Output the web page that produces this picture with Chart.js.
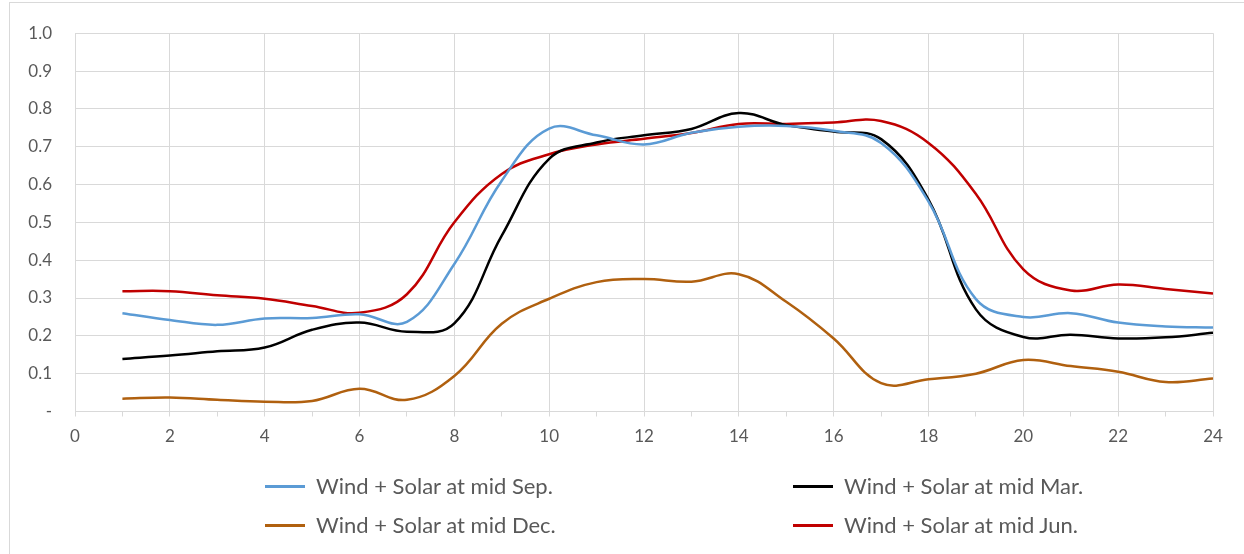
<!DOCTYPE html>
<html>
<head>
<meta charset="utf-8">
<script src="https://cdn.jsdelivr.net/npm/chart.js@4/dist/chart.umd.min.js"></script>
<style>
  html, body { margin: 0; padding: 0; background: #fff; }
  #wrap { position: relative; width: 1244px; height: 554px; overflow: hidden; }
  #frame { position: absolute; left: 9px; top: 2px; width: 1300px; height: 600px; border: 1px solid #d9d9d9; box-sizing: border-box; }
  canvas { position: absolute; left: 0; top: 0; }
  .leg { position: absolute; font-family: Lato, "Open Sans", sans-serif; font-size: 22px; color: #595959; white-space: nowrap; line-height: 26px; height: 26px; }
  .leg .sw { position: absolute; left: 0; top: 11.5px; width: 40px; height: 3px; }
  .leg .tx { position: absolute; left: 51px; top: 0; }
</style>
</head>
<body>
<div id="wrap">
  <div id="frame"></div>
  <canvas id="c" width="1244" height="554"></canvas>
  <div id="legend"></div>
</div>
<script>
const hours = [1,2,3,4,5,6,7,8,9,10,11,12,13,14,15,16,17,18,19,20,21,22,23,24];
const seriesNames = ["Wind + Solar at mid Sep.", "Wind + Solar at mid Mar.", "Wind + Solar at mid Dec.", "Wind + Solar at mid Jun."];
const sep = [0.26,0.242,0.229,0.246,0.247,0.257,0.237,0.39,0.61,0.748,0.73,0.706,0.737,0.753,0.755,0.742,0.71,0.555,0.297,0.25,0.26,0.235,0.225,0.222];
const mar = [0.139,0.148,0.159,0.169,0.216,0.235,0.211,0.233,0.465,0.668,0.711,0.73,0.747,0.789,0.757,0.74,0.72,0.56,0.27,0.197,0.203,0.193,0.196,0.208];
const dec = [0.034,0.037,0.031,0.026,0.028,0.06,0.031,0.094,0.232,0.298,0.342,0.35,0.343,0.363,0.29,0.193,0.075,0.085,0.10,0.136,0.12,0.105,0.078,0.087];
const jun = [0.318,0.318,0.307,0.298,0.279,0.261,0.31,0.50,0.628,0.68,0.706,0.721,0.736,0.76,0.76,0.764,0.768,0.71,0.575,0.376,0.32,0.336,0.324,0.312];
const colors = ["#5b9bd5", "#000000", "#b0600f", "#c00000"];
const values = [sep, mar, dec, jun];

const datasets = values.map((v, i) => ({
  label: seriesNames[i],
  data: hours.map((h, k) => ({x: h, y: v[k]})),
  borderColor: colors[i],
  backgroundColor: colors[i],
  borderWidth: 2.5,
  pointRadius: 0,
  tension: 0.4,
  fill: false
}));

new Chart(document.getElementById('c'), {
  type: 'line',
  data: { datasets },
  options: {
    responsive: false,
    animation: false,
    layout: { padding: { left: 0, top: 27, right: 31, bottom: 0 } },
    plugins: { legend: { display: false }, tooltip: { enabled: false } },
    scales: {
      x: {
        type: 'linear', min: 0, max: 24,
        border: { color: '#d9d9d9', width: 1 },
        grid: {
          color: (ctx) => (ctx.tick && ctx.tick.value % 2 === 0) ? '#d9d9d9' : 'rgba(0,0,0,0)',
          tickColor: '#d9d9d9', tickLength: 5, lineWidth: 1
        },
        ticks: {
          stepSize: 1, autoSkip: false, maxRotation: 0,
          callback: (v) => (v % 2 === 0 ? String(v) : ''),
          color: '#595959', font: { family: 'Lato, "Open Sans", sans-serif', size: 17 }, padding: 10
        },
        afterFit: (s) => { s.height = 142.5; }
      },
      y: {
        min: 0, max: 1,
        border: { color: '#d9d9d9', width: 1 },
        grid: { color: '#d9d9d9', drawTicks: false, lineWidth: 1 },
        ticks: {
          stepSize: 0.1,
          callback: (v) => (Math.abs(v) < 1e-9 ? '-' : Number(v).toFixed(1)),
          color: '#595959', font: { family: 'Lato, "Open Sans", sans-serif', size: 17 }, padding: 23
        },
        afterFit: (s) => { s.width = 75; }
      }
    }
  }
});

const legendPos = [[265, 473], [793, 473], [265, 512], [793, 512]];
const order = [0, 1, 2, 3];
const lg = document.getElementById('legend');
order.forEach((i, k) => {
  const d = document.createElement('div');
  d.className = 'leg';
  d.style.left = legendPos[k][0] + 'px';
  d.style.top = legendPos[k][1] + 'px';
  d.innerHTML = '<div class="sw" style="background:' + colors[i] + '"></div><div class="tx"></div>';
  d.querySelector('.tx').textContent = seriesNames[i];
  lg.appendChild(d);
});
</script>
</body>
</html>
